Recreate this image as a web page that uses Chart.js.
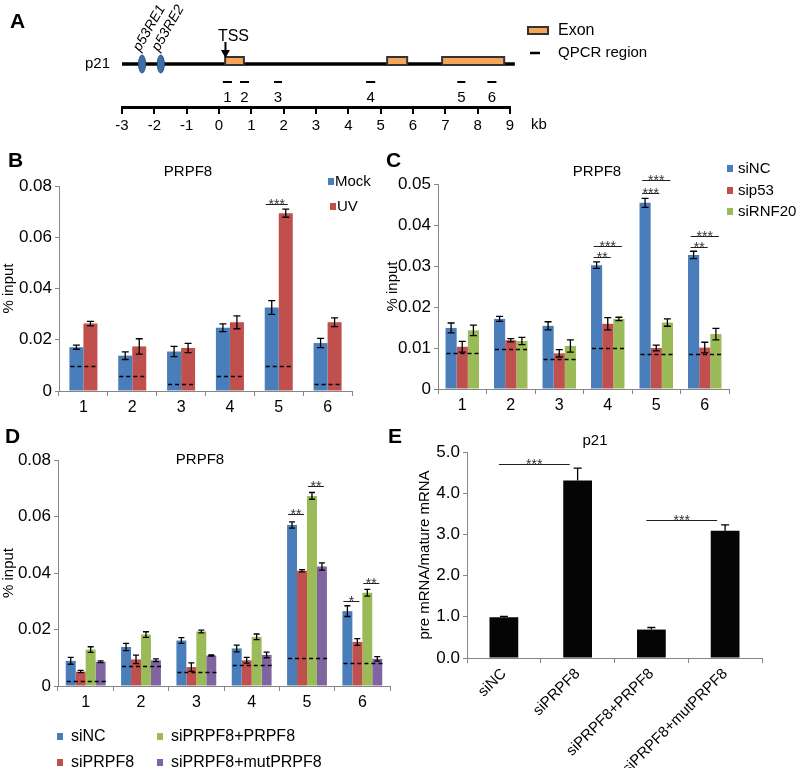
<!DOCTYPE html>
<html>
<head>
<meta charset="utf-8">
<title>PRPF8 at p21</title>
<script src="https://cdn.jsdelivr.net/npm/chart.js@4.4.1/dist/chart.umd.min.js"></script>
<style>
  body { margin: 0; width: 800px; height: 774px; position: relative; overflow: hidden; background: #fff; font-family: 'Liberation Sans', Arial, sans-serif; }
  .box { position: absolute; }
  .tag { position: absolute; font-weight: bold; font-size: 21px; line-height: 1; }
</style>
</head>
<body>
<div class="box" style="left:0;top:0;width:800px;height:150px"><canvas id="mapA"></canvas></div>
<div class="box" style="left:0;top:150px;width:390px;height:280px"><canvas id="chartB"></canvas></div>
<div class="box" style="left:380px;top:150px;width:420px;height:280px"><canvas id="chartC"></canvas></div>
<div class="box" style="left:0;top:425px;width:400px;height:349px"><canvas id="chartD"></canvas></div>
<div class="box" style="left:400px;top:425px;width:400px;height:349px"><canvas id="chartE"></canvas></div>
<div class="tag" style="left:10px;top:10px">A</div>
<div class="tag" style="left:8px;top:149px">B</div>
<div class="tag" style="left:386px;top:149px">C</div>
<div class="tag" style="left:5px;top:425px">D</div>
<div class="tag" style="left:388px;top:425px">E</div>
<script>
const FONT = "'Liberation Sans', Arial, sans-serif";
Chart.defaults.font.family = FONT;
Chart.defaults.color = '#000';

// ---- A: p21 locus (kb from TSS) ----
const kbRange = [-3, 9];
const geneSpan = [-3, 9.15];
const reNames = ['p53RE1', 'p53RE2'];
const reKb = [-2.38, -1.8];
const tssKb = 0.2;
const exonStart = [0.19, 5.2, 6.9];
const exonEnd = [0.77, 5.82, 8.82];
const qpcrNames = ['1', '2', '3', '4', '5', '6'];
const qpcrStart = [0.12, 0.65, 1.7, 4.55, 7.37, 8.3];
const qpcrEnd = [0.4, 0.93, 1.95, 4.83, 7.62, 8.58];

// ---- B: PRPF8 ChIP, mock vs UV ----
const regions = ['1', '2', '3', '4', '5', '6'];
const ticksB = [0, 0.02, 0.04, 0.06, 0.08];
const mockB = [0.0171, 0.0138, 0.0154, 0.0247, 0.0326, 0.0187];
const uvB = [0.0263, 0.0174, 0.0168, 0.0268, 0.0694, 0.0268];
const mockErrB = [0.0008, 0.0015, 0.0020, 0.0015, 0.0027, 0.0018];
const uvErrB = [0.0009, 0.0030, 0.0018, 0.0025, 0.0016, 0.0017];
const inputB = [0.0096, 0.0058, 0.0029, 0.0058, 0.0096, 0.0029];
// [dataset a, index a, dataset b, index b, line level, stars]
const sigB = [[0, 4, 1, 4, 0.0729, '***']];

// ---- C: PRPF8 ChIP after siNC / sip53 / siRNF20 ----
const ticksC = [0, 0.01, 0.02, 0.03, 0.04, 0.05];
const siNcC = [0.0149, 0.0171, 0.0154, 0.0302, 0.0454, 0.0327];
const sip53C = [0.0103, 0.0119, 0.0087, 0.0159, 0.0100, 0.0101];
const siRnf20C = [0.0143, 0.0117, 0.0105, 0.0171, 0.0162, 0.0134];
const siNcErrC = [0.0012, 0.0006, 0.0010, 0.0008, 0.0011, 0.0009];
const sip53ErrC = [0.0013, 0.0004, 0.0009, 0.0015, 0.0007, 0.0013];
const siRnf20ErrC = [0.0013, 0.0009, 0.0015, 0.0004, 0.0009, 0.0014];
const inputC = [0.0088, 0.0098, 0.0074, 0.0100, 0.0085, 0.0085];
const sigC = [
  [0, 3, 1, 3, 0.0321, '**'], [0, 3, 2, 3, 0.0348, '***'],
  [0, 4, 1, 4, 0.0478, '***'], [0, 4, 2, 4, 0.0510, '***'],
  [0, 5, 1, 5, 0.0346, '**'], [0, 5, 2, 5, 0.0372, '***']
];

// ---- D: PRPF8 ChIP, rescue ----
const ticksD = [0, 0.02, 0.04, 0.06, 0.08];
const siNcD = [0.0089, 0.0138, 0.0161, 0.0133, 0.0570, 0.0265];
const siPrpf8D = [0.0051, 0.0094, 0.0067, 0.0091, 0.0408, 0.0156];
const rescueD = [0.0129, 0.0182, 0.0193, 0.0174, 0.0673, 0.0330];
const mutD = [0.0086, 0.0091, 0.0108, 0.0110, 0.0423, 0.0096];
const siNcErrD = [0.0012, 0.0013, 0.0010, 0.0012, 0.0011, 0.0019];
const siPrpf8ErrD = [0.0004, 0.0015, 0.0015, 0.0010, 0.0004, 0.0012];
const rescueErrD = [0.0010, 0.0010, 0.0005, 0.0010, 0.0012, 0.0012];
const mutErrD = [0.0003, 0.0005, 0.0002, 0.0010, 0.0013, 0.0008];
const inputD = [0.0019, 0.0070, 0.0049, 0.0073, 0.0099, 0.0080];
const sigD = [
  [0, 4, 1, 4, 0.0609, '**'], [2, 4, 3, 4, 0.0708, '**'],
  [0, 5, 1, 5, 0.0300, '*'], [2, 5, 3, 5, 0.0363, '**']
];

// ---- E: p21 pre-mRNA / mature mRNA ----
const groupsE = ['siNC', 'siPRPF8', 'siPRPF8+PRPF8', 'siPRPF8+mutPRPF8'];
const ticksE = [0, 1, 2, 3, 4, 5];
const ratioE = [0.99, 4.31, 0.69, 3.09];
const ratioErrE = [0.02, 0.30, 0.05, 0.14];
const sigE = [[0, 0, 0, 1, 4.72, '***'], [0, 2, 0, 3, 3.35, '***']];

const BLUE = '#4a7ebb', RED = '#c0504d', GREEN = '#9bbb59', PURPLE = '#8064a2';
const GREY = '#868686';

// error bars, dashed input levels, stars, titles and legends
const extras = {
  id: 'extras',
  afterDatasetsDraw(chart, args, o) {
    if (!o.errors) return;
    const ctx = chart.ctx, ys = chart.scales.y;
    const metas = chart.data.datasets.map((d, i) => chart.getDatasetMeta(i).data);
    ctx.save();
    ctx.strokeStyle = '#000';
    if (o.input) {
      ctx.setLineDash([4, 3]);
      ctx.lineWidth = 1.5;
      o.input.forEach((v, i) => {
        const a = metas[0][i], b = metas[metas.length - 1][i];
        const y = Math.round(ys.getPixelForValue(v)) + 0.5;
        ctx.beginPath();
        ctx.moveTo(a.x - a.width / 2 + 1, y);
        ctx.lineTo(b.x + b.width / 2 + 1, y);
        ctx.stroke();
      });
      ctx.setLineDash([]);
    }
    ctx.lineWidth = 1.3;
    o.errors.forEach((errs, d) => {
      const vals = chart.data.datasets[d].data;
      errs.forEach((e, i) => {
        const x = metas[d][i].x;
        const top = ys.getPixelForValue(vals[i] + e);
        const bot = ys.getPixelForValue(o.upOnly ? vals[i] : vals[i] - e);
        ctx.beginPath();
        ctx.moveTo(x, top); ctx.lineTo(x, bot);
        ctx.moveTo(x - o.cap, top); ctx.lineTo(x + o.cap, top);
        if (!o.upOnly) { ctx.moveTo(x - o.cap, bot); ctx.lineTo(x + o.cap, bot); }
        ctx.stroke();
      });
    });
    ctx.restore();
  },
  afterDraw(chart, args, o) {
    if (!o.errors) return;
    const ctx = chart.ctx, ys = chart.scales.y;
    const metas = chart.data.datasets.map((d, i) => chart.getDatasetMeta(i).data);
    ctx.save();
    (o.sig || []).forEach(([da, ia, db, ib, v, txt]) => {
      const x0 = metas[da][ia].x + o.sigPad[0], x1 = metas[db][ib].x + o.sigPad[1];
      const y = Math.round(ys.getPixelForValue(v)) + 0.5;
      ctx.strokeStyle = '#222'; ctx.lineWidth = 1;
      ctx.beginPath(); ctx.moveTo(x0, y); ctx.lineTo(x1, y); ctx.stroke();
      ctx.fillStyle = '#333'; ctx.font = '14px ' + FONT;
      ctx.textAlign = 'center'; ctx.textBaseline = 'alphabetic';
      ctx.fillText(txt, (x0 + x1) / 2, y + 4);
    });
    ctx.fillStyle = '#000';
    ctx.font = '15px ' + FONT;
    ctx.textAlign = 'center'; ctx.textBaseline = 'middle';
    ctx.fillText(o.title[0], o.title[1], o.title[2]);
    if (o.legend) {
      ctx.font = o.legend.size + 'px ' + FONT;
      ctx.textAlign = 'left';
      chart.data.datasets.forEach((ds, i) => {
        const [x, y] = o.legend.at[i];
        ctx.fillStyle = ds.backgroundColor;
        ctx.fillRect(x, y - 4, 6, 7);
        ctx.fillStyle = '#000';
        ctx.fillText(ds.label, x + o.legend.gap, y);
      });
    }
    ctx.restore();
  }
};
Chart.register(extras);

function barPanel(id, labels, series, p) {
  return new Chart(document.getElementById(id), {
    type: 'bar',
    data: {
      labels: labels,
      datasets: series.map(s => ({
        label: s[0], data: s[1], backgroundColor: s[2], borderWidth: 0,
        categoryPercentage: p.catPct, barPercentage: 1
      }))
    },
    options: {
      responsive: true, maintainAspectRatio: false, animation: false,
      layout: { padding: p.padding },
      plugins: { legend: { display: false }, tooltip: { enabled: false }, extras: p.extras },
      scales: {
        x: {
          grid: { drawOnChartArea: false, tickLength: 5, color: GREY },
          border: { color: GREY },
          ticks: { font: { size: p.xFont || 16 }, padding: 2, minRotation: p.rot || 0, maxRotation: p.rot || 0 },
          afterFit: s => { s.height = p.xHeight; }
        },
        y: {
          min: 0, max: p.ticks[p.ticks.length - 1],
          afterBuildTicks: s => { s.ticks = p.ticks.map(v => ({ value: v })); },
          ticks: { font: { size: 17 }, padding: 3, callback: p.fmt },
          grid: { drawOnChartArea: false, tickLength: 4, color: GREY },
          border: { color: GREY },
          title: { display: true, text: p.yTitle, font: { size: 15 }, padding: p.titlePad },
          afterFit: s => { s.width = p.yWidth; }
        }
      }
    }
  });
}

const pct = v => (v === 0 ? '0' : v.toFixed(2));

barPanel('chartB', regions, [['Mock', mockB, BLUE], ['UV', uvB, RED]], {
  catPct: 0.574, ticks: ticksB, fmt: pct, yTitle: '% input', titlePad: 0,
  yWidth: 59, xHeight: 30, padding: { left: 0, top: 36, right: 38, bottom: 9 },
  extras: {
    errors: [mockErrB, uvErrB], input: inputB, cap: 3.5, sig: sigB, sigPad: [-6, 2],
    title: ['PRPF8', 188, 22],
    legend: { size: 15, gap: 7, at: [[328, 32], [330, 57]] }
  }
});

barPanel('chartC', regions, [['siNC', siNcC, BLUE], ['sip53', sip53C, RED], ['siRNF20', siRnf20C, GREEN]], {
  catPct: 0.69, ticks: ticksC, fmt: pct, yTitle: '% input', titlePad: 4,
  yWidth: 58, xHeight: 30, padding: { left: 0, top: 34, right: 71, bottom: 11 },
  extras: {
    errors: [siNcErrC, sip53ErrC, siRnf20ErrC], input: inputC, cap: 3.5, sig: sigC, sigPad: [-3, 3],
    title: ['PRPF8', 217, 22],
    legend: { size: 15, gap: 11, at: [[347, 19], [347, 41], [347, 62]] }
  }
});

barPanel('chartD', regions, [['siNC', siNcD, BLUE], ['siPRPF8', siPrpf8D, RED], ['siPRPF8+PRPF8', rescueD, GREEN], ['siPRPF8+mutPRPF8', mutD, PURPLE]], {
  catPct: 0.72, ticks: ticksD, fmt: pct, yTitle: '% input', titlePad: 0,
  yWidth: 58, xHeight: 30, padding: { left: 0, top: 35, right: 10, bottom: 58 },
  extras: {
    errors: [siNcErrD, siPrpf8ErrD, rescueErrD, mutErrD], input: inputD, cap: 3, sig: sigD, sigPad: [-4, 2],
    title: ['PRPF8', 200, 35],
    legend: { size: 16, gap: 14, at: [[57, 312], [57, 338], [157, 312], [157, 338]] }
  }
});

barPanel('chartE', groupsE, [['p21', ratioE, '#050505']], {
  catPct: 0.39, ticks: ticksE, fmt: v => v.toFixed(1), yTitle: 'pre mRNA/mature mRNA', titlePad: 16,
  yWidth: 67, xHeight: 110, xFont: 15, rot: 45, padding: { left: 0, top: 27, right: 38, bottom: 6 },
  extras: {
    errors: [ratioErrE], upOnly: true, cap: 4, sig: sigE, sigPad: [-5, -8],
    title: ['p21', 195, 16]
  }
});

// gene map drawn on the kb scale
const geneMap = {
  id: 'geneMap',
  afterDatasetsDraw(chart) {
    const ctx = chart.ctx, xs = chart.scales.x, base = chart.chartArea.bottom;
    const px = k => xs.getPixelForValue(k);
    const lineY = base - 43;
    ctx.save();
    ctx.fillStyle = '#000';
    ctx.font = '15px ' + FONT;
    ctx.textAlign = 'right'; ctx.textBaseline = 'middle';
    ctx.fillText('p21', 110, lineY);

    exonStart.forEach((s, i) => {
      const x0 = px(s), x1 = px(exonEnd[i]);
      ctx.fillStyle = '#f5a55a';
      ctx.fillRect(x0, lineY - 7, x1 - x0, 8);
      ctx.strokeStyle = '#333'; ctx.lineWidth = 2;
      ctx.strokeRect(x0, lineY - 7, x1 - x0, 8);
    });

    reKb.forEach((k, i) => {
      ctx.beginPath();
      ctx.ellipse(px(k), lineY, 3.5, 9, 0, 0, Math.PI * 2);
      ctx.fillStyle = '#3d6fa8'; ctx.fill();
      ctx.strokeStyle = '#2b4f7a'; ctx.lineWidth = 1; ctx.stroke();
      ctx.save();
      ctx.translate(px(k) - 2, lineY - 12);
      ctx.rotate(-Math.PI / 3);
      ctx.fillStyle = '#000';
      ctx.font = 'italic 14px ' + FONT;
      ctx.textAlign = 'left'; ctx.textBaseline = 'alphabetic';
      ctx.fillText(reNames[i], 0, 0);
      ctx.restore();
    });

    const tx = px(tssKb);
    ctx.strokeStyle = '#000'; ctx.lineWidth = 2;
    ctx.beginPath(); ctx.moveTo(tx, lineY - 22); ctx.lineTo(tx, lineY - 12); ctx.stroke();
    ctx.fillStyle = '#000';
    ctx.beginPath(); ctx.moveTo(tx - 4.5, lineY - 14); ctx.lineTo(tx + 4.5, lineY - 14); ctx.lineTo(tx, lineY - 6); ctx.closePath(); ctx.fill();
    ctx.font = '16px ' + FONT; ctx.textAlign = 'center';
    ctx.fillText('TSS', tx + 8, lineY - 27);

    ctx.lineWidth = 2;
    ctx.font = '15px ' + FONT;
    qpcrStart.forEach((s, i) => {
      const x0 = px(s), x1 = px(qpcrEnd[i]);
      ctx.beginPath(); ctx.moveTo(x0, base - 25); ctx.lineTo(x1, base - 25); ctx.stroke();
      ctx.fillText(qpcrNames[i], (x0 + x1) / 2, base - 9);
    });

    ctx.textAlign = 'left';
    ctx.fillText('kb', xs.right + 21, base + 18);

    // key
    ctx.fillStyle = '#f5a55a'; ctx.fillRect(528, 27, 20, 7);
    ctx.strokeStyle = '#333'; ctx.strokeRect(528, 27, 20, 7);
    ctx.strokeStyle = '#000'; ctx.lineWidth = 2.5;
    ctx.beginPath(); ctx.moveTo(530, 53); ctx.lineTo(540, 53); ctx.stroke();
    ctx.fillStyle = '#000';
    ctx.font = '16px ' + FONT; ctx.fillText('Exon', 558, 31);
    ctx.font = '15px ' + FONT; ctx.fillText('QPCR region', 558, 53);
    ctx.restore();
  }
};

new Chart(document.getElementById('mapA'), {
  type: 'line',
  data: {
    datasets: [{
      data: geneSpan.map(k => ({ x: k, y: 43 })),
      borderColor: '#000', borderWidth: 3.5, pointRadius: 0, clip: false
    }]
  },
  options: {
    responsive: true, maintainAspectRatio: false, animation: false,
    layout: { padding: { left: 122, right: 290, top: 10, bottom: 3 } },
    plugins: { legend: { display: false }, tooltip: { enabled: false } },
    scales: {
      x: {
        type: 'linear', min: kbRange[0], max: kbRange[1],
        ticks: { stepSize: 1, font: { size: 15 }, padding: 3 },
        grid: { drawOnChartArea: false, tickLength: 7, lineWidth: 2, color: '#000' },
        border: { width: 3, color: '#000' },
        afterFit: s => { s.height = 40; }
      },
      y: { display: false, min: 0, max: 97 }
    }
  },
  plugins: [geneMap]
});
</script>
</body>
</html>
